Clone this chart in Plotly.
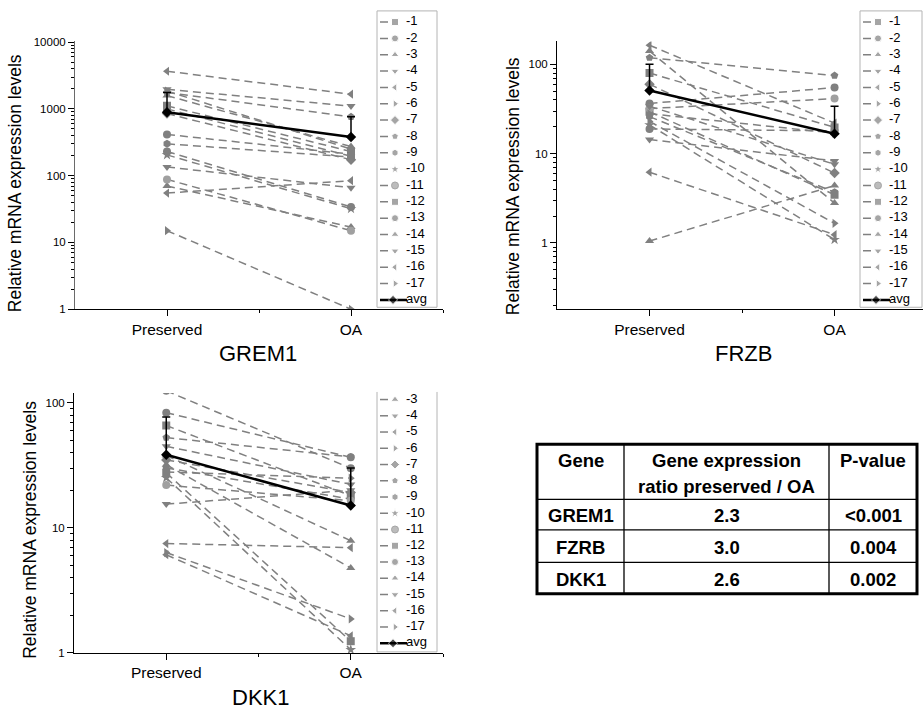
import plotly.graph_objects as go

W, H = 923, 715
FONT = "Arial, 'Liberation Sans', Helvetica, sans-serif"
GRAY = "#808080"

# ---------------- data ----------------
conditions = ["Preserved", "OA"]
series_labels = [str(i) for i in range(1, 18)]
avg_label = "avg"
symbols = ["square", "circle", "triangle-up", "triangle-down", "triangle-left",
           "triangle-right", "diamond", "pentagon", "hexagon", "star", "circle",
           "square", "circle", "triangle-up", "triangle-down", "triangle-left",
           "triangle-right"]

grem1_preserved = [1110, 415, 70, 135, 3660, 15, 850, 1760, 300, 205, 88, 1000, 230, 1580, 1960, 55, 1850]
grem1_oa        = [230, 210, 17, 66, 1660, 1.0, 173, 760, 190, 32, 15, 195, 34, 273, 1100, 84, 250]
grem1_avg = [890, 380]
grem1_err = [870, 380]

frzb_preserved = [29.5, 36.5, 1.05, 14.4, 164, 23, 60, 119, 26, 21, 32, 80, 18.9, 141, 34, 6.2, 28]
frzb_oa        = [3.47, 55, 4.4, 8.3, 22, 1.66, 6.07, 75, 3.7, 1.09, 41.4, 19.7, 18, 2.8, 7.6, 1.24, 17]
frzb_avg = [51, 16.7]
frzb_err = [49.5, 17.3]

dkk1_preserved = [66, 83.6, 38, 45, 7.5, 6.35, 35, 52.8, 30.2, 25.2, 22, 27.6, 125, 32, 15.5, 6.1, 28]
dkk1_oa        = [18.1, 36.7, 7.9, 22.3, 6.95, 1.87, 19.2, 37, 17, 1.06, 16.5, 1.24, 30, 4.78, 20, 1.37, 25]
dkk1_avg = [38.5, 15.1]
dkk1_err = [38.7, 15.1]

table_header = ["Gene", "Gene expression<br>ratio preserved / OA", "P-value"]
table_genes = ["GREM1", "FZRB", "DKK1"]
table_ratio = ["2.3", "3.0", "2.6"]
table_pvalue = ["<0.001", "0.004", "0.002"]

panel_titles = ["GREM1", "FRZB", "DKK1"]
ytitle = "Relative mRNA expression levels"


def px_x(p):
    return p / W


def px_y(p):
    return 1 - p / H


fig = go.Figure()

panels = [
    dict(pres=grem1_preserved, oa=grem1_oa, avg=grem1_avg, err=grem1_err,
         xdom=(75, 443), ydom=(37, 309), xrange=[-0.5, 1.5], yrange=[0, 4.01],
         major=[1, 10, 100, 1000, 10000], minor_dec=[0, 1, 2, 3], ylinecolor="#6a6a6a"),
    dict(pres=frzb_preserved, oa=frzb_oa, avg=frzb_avg, err=frzb_err,
         xdom=(557, 923), ydom=(37, 309), xrange=[-0.5, 1.478], yrange=[-0.742, 2.257],
         major=[1, 10, 100], minor_dec=[-1, 0, 1], ylinecolor="black"),
    dict(pres=dkk1_preserved, oa=dkk1_oa, avg=dkk1_avg, err=dkk1_err,
         xdom=(74, 443), ydom=(394, 658), xrange=[-0.5, 1.5], yrange=[0, 2.08],
         major=[1, 10, 100], minor_dec=[0, 1], ylinecolor="black"),
]

xpos = [0, 1]  # category positions for Preserved / OA

for pi, p in enumerate(panels):
    n = pi + 1
    xa = "x" if n == 1 else f"x{n}"
    ya = "y" if n == 1 else f"y{n}"
    for i in range(len(series_labels)):
        fig.add_trace(go.Scatter(
            x=xpos, y=[p["pres"][i], p["oa"][i]], xaxis=xa, yaxis=ya,
            mode="lines+markers", name=series_labels[i], showlegend=False,
            line=dict(color=GRAY, width=1.5, dash="8px,5px"),
            marker=dict(symbol=symbols[i], size=8,
                        color="#a0a0a0" if i == 10 else GRAY),
        ))
    fig.add_trace(go.Scatter(
        x=xpos, y=p["avg"], xaxis=xa, yaxis=ya, mode="lines+markers",
        name=avg_label, showlegend=False,
        line=dict(color="black", width=2.5),
        marker=dict(symbol="diamond", size=8, color="black"),
        error_y=dict(type="data", symmetric=False, array=p["err"], arrayminus=[0, 0],
                     color="black", thickness=1.5, width=4),
    ))
    minor_vals = [m * 10 ** d for d in p["minor_dec"] for m in range(2, 10)]
    fig.layout[f"xaxis{'' if n == 1 else n}"] = dict(
        domain=[px_x(p["xdom"][0]), min(1, px_x(p["xdom"][1]))], range=p["xrange"],
        anchor=ya, tickvals=xpos, ticktext=conditions, ticks="outside", ticklen=6,
        tickcolor="black", showline=True, linecolor="black", linewidth=1,
        showgrid=False, zeroline=False,
        tickfont=dict(family=FONT, size=15.5, color="black"),
        minor=dict(tickvals=[0.5, 1.5], ticks="outside", ticklen=3, tickcolor="black"),
    )
    fig.layout[f"yaxis{'' if n == 1 else n}"] = dict(
        domain=[px_y(p["ydom"][1]), px_y(p["ydom"][0])], type="log", range=p["yrange"],
        anchor=xa, tickvals=p["major"], ticktext=[str(v) for v in p["major"]],
        ticks="outside", ticklen=6, tickcolor="black", showline=True,
        linecolor=p["ylinecolor"], linewidth=1, showgrid=False, zeroline=False,
        tickfont=dict(family=FONT, size=11.5, color="black"),
        minor=dict(tickvals=minor_vals, ticks="outside", ticklen=3, tickcolor="black"),
    )

# ---------------- legends (drawn in their own pixel-scaled axes) ----------------
legends = [
    dict(box=(377, 437, 6, 307), first=17.3, step=16.6, x0=380, xm=395, x1=406, top_border=True),
    dict(box=(860, 922, 6, 307), first=17.3, step=16.6, x0=863, xm=878, x1=889, top_border=True),
    dict(box=(377, 437, 393, 657), first=367.7, step=16.5, x0=380, xm=395, x1=406, top_border=False),
]
for li, L in enumerate(legends):
    n = 4 + li
    xa, ya = f"x{n}", f"y{n}"
    bx0, bx1, by0, by1 = L["box"]
    labels = series_labels + [avg_label]
    for k, lab in enumerate(labels):
        yk = L["first"] + k * L["step"]
        is_avg = lab == avg_label
        if is_avg:
            xs = [L["x0"], L["xm"] - 2, L["x1"] + 1]
            line = dict(color="black", width=2.5)
            sym = "diamond"
            col = "black"
        else:
            xs = [L["x0"], L["xm"], L["x0"] + 8]
            line = dict(color=GRAY, width=1.5, dash="8px,30px")
            sym = symbols[k]
            col = "#a0a0a0" if k == 10 else GRAY
        fig.add_trace(go.Scatter(
            x=xs, y=[yk] * 3, xaxis=xa, yaxis=ya, mode="lines+markers",
            showlegend=False, hoverinfo="skip", line=line,
            marker=dict(symbol=["circle", sym, "circle"], size=[0, 7, 0], color=col),
        ))
    fig.add_trace(go.Scatter(
        x=[L["x1"]] * len(labels),
        y=[L["first"] + k * L["step"] for k in range(len(labels))],
        text=[lab if lab == avg_label else "-" + lab for lab in labels],
        xaxis=xa, yaxis=ya, mode="text", textposition="middle right",
        textfont=dict(family=FONT, size=13, color="black"), showlegend=False,
        hoverinfo="skip", cliponaxis=True,
    ))
    fig.layout[f"xaxis{n}"] = dict(domain=[px_x(bx0), min(1, px_x(bx1))], range=[bx0, bx1],
                                   anchor=ya, visible=False, fixedrange=True)
    fig.layout[f"yaxis{n}"] = dict(domain=[px_y(by1), px_y(by0)], range=[by1, by0],
                                   anchor=xa, visible=False, fixedrange=True)
    if L["top_border"]:
        fig.add_shape(type="rect", xref="paper", yref="paper",
                      x0=px_x(bx0), x1=px_x(bx1), y0=px_y(by1), y1=px_y(by0),
                      line=dict(color="#b4b4b4", width=1))
    else:
        fig.add_shape(type="path", xref="paper", yref="paper",
                      path=f"M {px_x(bx0)},{px_y(by0)} L {px_x(bx0)},{px_y(by1)} "
                           f"L {px_x(bx1)},{px_y(by1)} L {px_x(bx1)},{px_y(by0)}",
                      line=dict(color="#b4b4b4", width=1))

# ---------------- table (grid lines + text) ----------------
col_edges = [537, 624, 829, 917]
row_edges = [446, 502, 533, 566, 598]
tfont = dict(family=FONT, size=18.5, color="black")
for xe in col_edges[1:-1]:
    fig.add_shape(type="line", xref="paper", yref="paper",
                  x0=px_x(xe), x1=px_x(xe), y0=px_y(row_edges[0]), y1=px_y(row_edges[-1]),
                  line=dict(color="black", width=1.3))
for ye in row_edges[1:-1]:
    fig.add_shape(type="line", xref="paper", yref="paper",
                  x0=px_x(col_edges[0]), x1=px_x(col_edges[-1]), y0=px_y(ye), y1=px_y(ye),
                  line=dict(color="black", width=1.3))
fig.add_shape(type="rect", xref="paper", yref="paper",
              x0=px_x(col_edges[0]), x1=px_x(col_edges[-1]),
              y0=px_y(row_edges[-1]), y1=px_y(row_edges[0]),
              line=dict(color="black", width=3))
col_centers = [(col_edges[c] + col_edges[c + 1]) / 2 for c in range(3)]
header_top = row_edges[0] + 17  # first text line centre
for c, htxt in enumerate(table_header):
    lines = htxt.split("<br>")
    for li_, ln in enumerate(lines):
        fig.add_annotation(text=f"<b>{ln}</b>", x=px_x(col_centers[c]),
                           y=px_y(header_top + 26 * li_), xref="paper", yref="paper",
                           showarrow=False, xanchor="center", yanchor="middle", font=tfont)
for r, row in enumerate(zip(table_genes, table_ratio, table_pvalue)):
    cy = (row_edges[r + 1] + row_edges[r + 2]) / 2 + 1
    for c, val in enumerate(row):
        fig.add_annotation(text=f"<b>{val}</b>", x=px_x(col_centers[c]), y=px_y(cy),
                           xref="paper", yref="paper", showarrow=False,
                           xanchor="center", yanchor="middle", font=tfont)

# ---------------- titles ----------------
for txt, cx, cy in zip(panel_titles, [258, 743, 260], [354, 354, 703]):
    fig.add_annotation(text=txt, x=px_x(cx), y=px_y(cy), xref="paper", yref="paper",
                       showarrow=False, xanchor="center", yanchor="middle",
                       font=dict(family=FONT, size=22, color="black"))
for cx, cy in [(15, 181), (513, 184), (30, 533)]:
    fig.add_annotation(text=ytitle, x=px_x(cx), y=px_y(cy), xref="paper", yref="paper",
                       showarrow=False, xanchor="center", yanchor="middle", textangle=-90,
                       font=dict(family=FONT, size=17.5, color="black"))

fig.update_layout(width=W, height=H, margin=dict(l=0, r=0, t=0, b=0),
                  paper_bgcolor="white", plot_bgcolor="white", showlegend=False)

fig.write_html("out.html", config={"displayModeBar": False},
               post_script="document.body.style.margin='0';document.body.style.overflow='hidden';")
